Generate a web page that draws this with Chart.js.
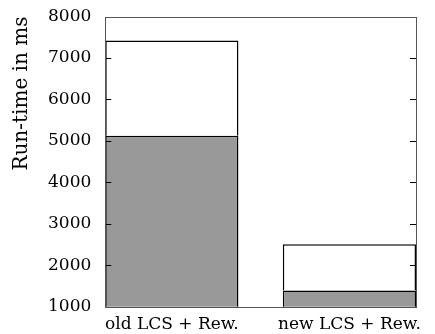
<!DOCTYPE html>
<html>
<head>
<meta charset="utf-8">
<script src="https://cdn.jsdelivr.net/npm/chart.js@4"></script>
<style>
html,body{margin:0;padding:0;background:#fff;}
#wrap{width:435px;height:334px;}
</style>
</head>
<body>
<div id="wrap"><canvas id="c" width="435" height="334"></canvas></div>
<script>
const categories = ["old LCS + Rew.", "new LCS + Rew."];
const baseTime = [5125, 1390];      // gray (lower) segment
const totalTime = [7425, 2505];     // full bar height
const yTicks = [1000, 2000, 3000, 4000, 5000, 6000, 7000, 8000];

const extraTime = totalTime.map((t, i) => t - baseTime[i]);

const frameTicks = {
  id: 'frameTicks',
  afterDatasetsDraw(chart) {
    const {ctx, chartArea: a, scales} = chart;
    const y = scales.y;
    ctx.save();
    ctx.strokeStyle = '#000';
    ctx.lineWidth = 1;
    yTicks.forEach(v => {
      const py = Math.round(y.getPixelForValue(v)) + 0.5;
      ctx.beginPath();
      ctx.moveTo(a.left, py); ctx.lineTo(a.left + 6, py);
      ctx.moveTo(a.right, py); ctx.lineTo(a.right - 6, py);
      ctx.stroke();
    });
    ctx.strokeStyle = '#555';
    ctx.strokeRect(Math.round(a.left) + 0.5, Math.round(a.top) + 0.5,
                   Math.round(a.right - a.left), Math.round(a.bottom - a.top));
    ctx.restore();
  }
};

new Chart(document.getElementById('c'), {
  type: 'bar',
  data: {
    datasets: [
      {
        label: 'base',
        data: baseTime.map((v, i) => ({x: i, y: v})),
        backgroundColor: '#999999',
        borderColor: '#000',
        borderWidth: 1.5,
        borderSkipped: false,
        barPercentage: 0.75,
        categoryPercentage: 1
      },
      {
        label: 'extra',
        data: extraTime.map((v, i) => ({x: i, y: v})),
        backgroundColor: '#ffffff',
        borderColor: '#000',
        borderWidth: 1.5,
        borderSkipped: 'bottom',
        barPercentage: 0.75,
        categoryPercentage: 1
      }
    ]
  },
  options: {
    responsive: false,
    animation: false,
    layout: {padding: {top: 0, right: 19, left: 10, bottom: -8}},
    plugins: {legend: {display: false}, tooltip: {enabled: false}},
    scales: {
      x: {
        type: 'linear',
        stacked: true,
        offset: false,
        min: -0.375,
        max: 1.375,
        afterBuildTicks: s => { s.ticks = categories.map((c, i) => ({value: i})); },
        grid: {display: false, drawTicks: false, offset: false},
        border: {display: false},
        ticks: {
          callback: v => categories[v],
          color: '#000',
          padding: 10,
          maxRotation: 0,
          autoSkip: false,
          font: {family: 'DejaVu Serif', size: 17, lineHeight: 0.9}
        }
      },
      y: {
        stacked: true,
        min: 1000,
        max: 8000,
        afterBuildTicks: s => { s.ticks = yTicks.map(v => ({value: v})); },
        grid: {display: false, drawTicks: false},
        border: {display: false},
        title: {
          display: true,
          text: 'Run-time in ms',
          align: 'end',
          color: '#000',
          padding: {top: 0, bottom: 0},
          font: {family: 'DejaVu Serif', size: 20, weight: 'normal'}
        },
        ticks: {
          color: '#000',
          padding: 14,
          callback: v => String(v),
          font: {family: 'DejaVu Serif', size: 17, lineHeight: 0.3}
        }
      }
    }
  },
  plugins: [frameTicks]
});
</script>
</body>
</html>
